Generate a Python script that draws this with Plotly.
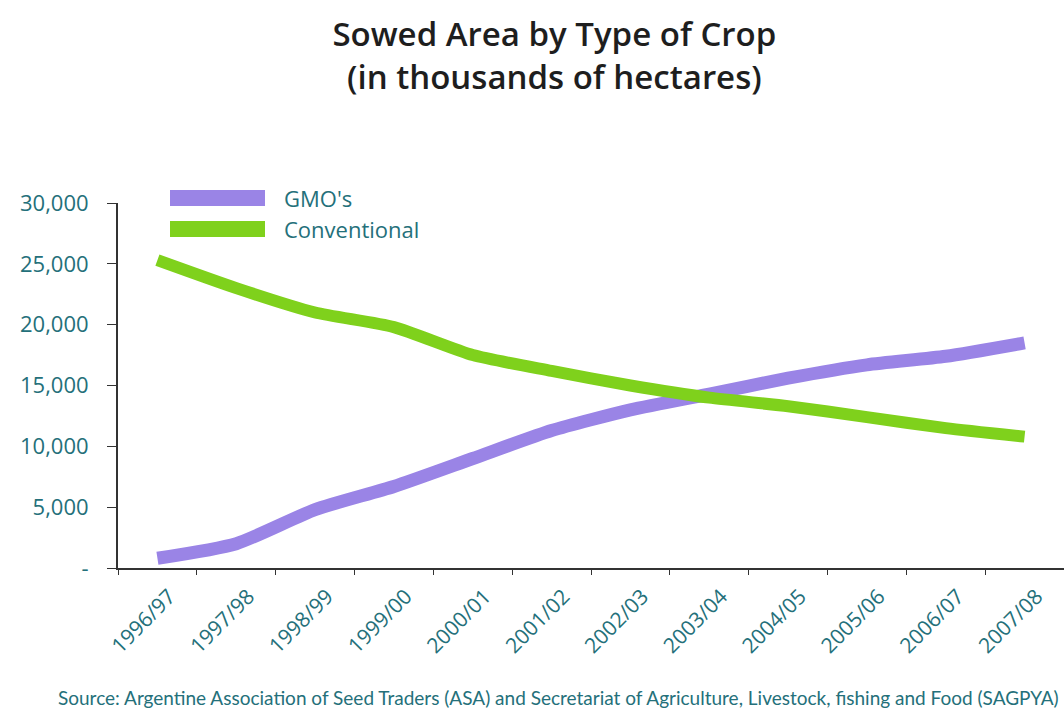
import plotly.graph_objects as go

seasons = ["1996/97", "1997/98", "1998/99", "1999/00", "2000/01", "2001/02",
           "2002/03", "2003/04", "2004/05", "2005/06", "2006/07", "2007/08"]
gmo = [800, 2000, 4800, 6700, 9000, 11300, 13000, 14300, 15600, 16700, 17400, 18500]
conventional = [25300, 23000, 21000, 19800, 17500, 16200, 15000, 14000, 13300, 12400, 11500, 10800]
y_ticks = [0, 5000, 10000, 15000, 20000, 25000, 30000]
y_tick_text = ["-", "5,000", "10,000", "15,000", "20,000", "25,000", "30,000"]

GMO_COLOR = "#9a84e6"
CONV_COLOR = "#7fd11c"
TEXT_COLOR = "#24707a"
AXIS_COLOR = "#333333"
FONT = "Open Sans"

fig = go.Figure()
fig.add_trace(go.Scatter(x=seasons, y=gmo, mode="lines", name="GMO's",
                         line=dict(color=GMO_COLOR, width=13, shape="spline", smoothing=0.6)))
fig.add_trace(go.Scatter(x=seasons, y=conventional, mode="lines", name="Conventional",
                         line=dict(color=CONV_COLOR, width=12, shape="spline", smoothing=0.6)))

# custom legend (wide swatches)
legend_items = [("GMO's", GMO_COLOR, 198), ("Conventional", CONV_COLOR, 229)]
W, H = 1064, 709
L, R, T, B = 118, 0, 203, 141
for label, color, ypix in legend_items:
    fig.add_shape(type="rect", xref="paper", yref="paper",
                  x0=(170 - L) / (W - L - R), x1=(265 - L) / (W - L - R),
                  y0=(H - B - (ypix + 8)) / (H - T - B), y1=(H - B - (ypix - 8)) / (H - T - B),
                  fillcolor=color, line=dict(width=0))
    fig.add_annotation(xref="paper", yref="paper",
                       x=(282 - L) / (W - L - R), y=(H - B - ypix) / (H - T - B),
                       text=label, showarrow=False, xanchor="left", yanchor="middle",
                       font=dict(family=FONT, size=22, color=TEXT_COLOR))

fig.add_annotation(xref="paper", yref="paper", x=(56 - L) / (W - L - R), y=(H - B - 697) / (H - T - B),
                   text="Source: Argentine Association of Seed Traders (ASA) and Secretariat of Agriculture, Livestock, fishing and Food (SAGPYA)",
                   showarrow=False, xanchor="left", yanchor="middle",
                   font=dict(family="Lato", size=19, color=TEXT_COLOR))

fig.update_layout(
    width=W, height=H,
    margin=dict(l=L, r=R, t=T, b=B),
    paper_bgcolor="white", plot_bgcolor="white",
    showlegend=False,
    title=dict(text="Sowed Area by Type of Crop<br>(in thousands of hectares)",
               x=0.521, xanchor="center", y=0.935, yanchor="top",
               font=dict(family=FONT, size=33, color="#1e1e1e", weight=600)),
    font=dict(family=FONT, color=TEXT_COLOR),
)
fig.update_xaxes(type="category", range=[-0.5, 11.5], tickson="boundaries",
                 showline=True, linecolor=AXIS_COLOR, linewidth=2,
                 ticks="outside", ticklen=5, tickcolor=AXIS_COLOR,
                 tickangle=-45, tickfont=dict(family=FONT, size=21, color=TEXT_COLOR),
                 ticklabelshift=12, ticklabelstandoff=6,
                 showgrid=False, zeroline=False)
fig.update_yaxes(range=[0, 30000], tickvals=y_ticks, ticktext=y_tick_text,
                 showline=True, linecolor=AXIS_COLOR, linewidth=2,
                 ticks="outside", ticklen=9, tickcolor=AXIS_COLOR,
                 tickfont=dict(family=FONT, size=22, color=TEXT_COLOR),
                 showgrid=False, zeroline=False, ticklabelstandoff=14)

fig.write_html("out.html")
